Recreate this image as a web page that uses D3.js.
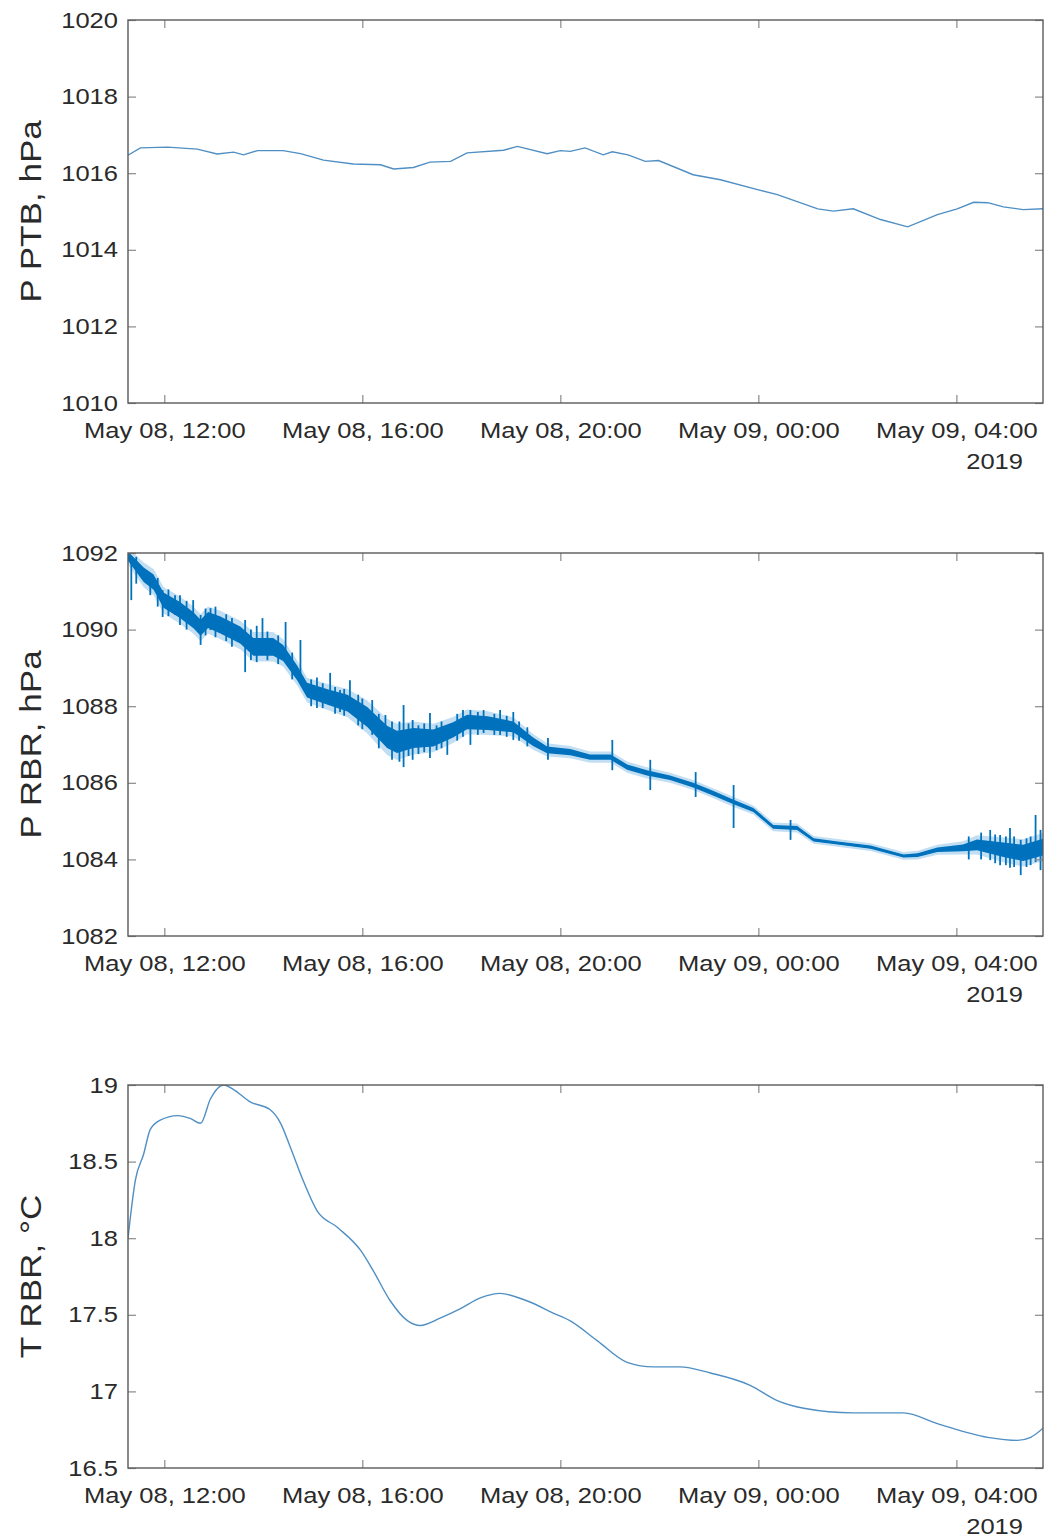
<!DOCTYPE html>
<html>
<head>
<meta charset="utf-8">
<script src="https://cdn.jsdelivr.net/npm/d3@7"></script>
<style>
  body { margin: 0; background: #fff; }
  text { font-family: "Liberation Sans", Arial, Helvetica, sans-serif; }
</style>
</head>
<body>
<div id="myVis"></div>
<script>
var w = 1045;
var h = 1539;
var left = 128;
var right = 1043;
var panelH = 383;
var tops = [20, 553, 1085];

// Panel 1: PTB pressure
var ptbTime = ["05-08 11:16","05-08 11:31","05-08 12:04","05-08 12:40","05-08 13:04","05-08 13:24","05-08 13:36","05-08 13:53","05-08 14:24","05-08 14:45",
  "05-08 15:13","05-08 15:49","05-08 16:22","05-08 16:38","05-08 17:02","05-08 17:22","05-08 17:47","05-08 18:07","05-08 18:51","05-08 19:08",
  "05-08 19:44","05-08 20:00","05-08 20:12","05-08 20:30","05-08 20:52","05-08 21:03","05-08 21:22","05-08 21:43","05-08 21:59","05-08 22:41",
  "05-08 23:14","05-08 23:59","05-09 00:23","05-09 01:12","05-09 01:31","05-09 01:55","05-09 02:28","05-09 03:01","05-09 03:37","05-09 04:01",
  "05-09 04:21","05-09 04:38","05-09 04:57","05-09 05:21","05-09 05:45"];
var ptbValue = [1016.47,1016.66,1016.68,1016.63,1016.50,1016.55,1016.48,1016.59,1016.59,1016.51,
  1016.34,1016.24,1016.22,1016.11,1016.15,1016.29,1016.31,1016.53,1016.60,1016.70,
  1016.51,1016.59,1016.57,1016.66,1016.48,1016.56,1016.48,1016.31,1016.33,1015.96,
  1015.83,1015.57,1015.44,1015.07,1015.01,1015.07,1014.79,1014.60,1014.92,1015.07,
  1015.24,1015.23,1015.12,1015.05,1015.07];

// Panel 2: RBR pressure (centre line and half-width of the noise band)
var rbrTime = ["05-08 11:16","05-08 11:35","05-08 11:47","05-08 11:59","05-08 12:19","05-08 12:35","05-08 12:44","05-08 12:53","05-08 13:08","05-08 13:32",
  "05-08 13:48","05-08 14:12","05-08 14:24","05-08 14:41","05-08 14:53","05-08 15:18","05-08 15:42","05-08 16:06","05-08 16:30","05-08 16:42",
  "05-08 17:02","05-08 17:26","05-08 17:50","05-08 18:07","05-08 18:32","05-08 19:03","05-08 19:27","05-08 19:44","05-08 20:12","05-08 20:36",
  "05-08 21:01","05-08 21:21","05-08 21:45","05-08 22:13","05-08 22:41","05-08 23:05","05-08 23:30","05-08 23:54","05-09 00:18","05-09 00:47",
  "05-09 01:07","05-09 01:36","05-09 02:16","05-09 02:56","05-09 03:13","05-09 03:37","05-09 04:08","05-09 04:25","05-09 04:57","05-09 05:21",
  "05-09 05:45"];
var rbrValue = [1091.92,1091.43,1091.24,1090.77,1090.51,1090.25,1090.05,1090.25,1090.12,1089.86,
  1089.55,1089.55,1089.39,1088.87,1088.42,1088.24,1088.08,1087.72,1087.20,1087.07,
  1087.17,1087.17,1087.38,1087.59,1087.56,1087.46,1087.07,1086.86,1086.80,1086.67,
  1086.67,1086.41,1086.26,1086.13,1085.94,1085.73,1085.50,1085.29,1084.85,1084.82,
  1084.51,1084.43,1084.32,1084.09,1084.11,1084.25,1084.30,1084.38,1084.25,1084.17,
  1084.32];
var rbrSpread = [0.12,0.19,0.20,0.20,0.21,0.21,0.21,0.21,0.22,0.22,
  0.23,0.23,0.21,0.19,0.19,0.20,0.22,0.26,0.29,0.29,
  0.26,0.22,0.20,0.19,0.18,0.14,0.11,0.09,0.08,0.07,
  0.07,0.07,0.07,0.06,0.06,0.06,0.06,0.05,0.05,0.05,
  0.04,0.04,0.04,0.04,0.05,0.06,0.09,0.14,0.19,0.21,
  0.22];
// Single spikes in the RBR record: time, low, high
var spikeTime = ["05-08 11:20","05-08 11:43","05-08 11:58","05-08 12:13","05-08 12:19","05-08 12:35","05-08 12:44","05-08 12:56","05-08 13:38","05-08 13:59",
  "05-08 14:27","05-08 14:45","05-08 15:21","05-08 15:33","05-08 15:45","05-08 16:12","05-08 16:28","05-08 16:50","05-08 17:01","05-08 17:22",
  "05-08 17:43","05-08 18:11","05-08 18:47","05-08 19:03","05-08 19:45","05-08 21:03","05-08 21:49","05-08 22:44","05-08 23:30","05-09 00:39",
  "05-09 04:41","05-09 04:53","05-09 05:05","05-09 05:18","05-09 05:36","05-09 05:42",
  "05-08 11:26","05-08 11:52","05-08 12:05","05-08 12:27","05-08 12:50","05-08 13:02","05-08 13:15","05-08 13:22","05-08 13:45","05-08 13:52",
  "05-08 14:05","05-08 14:18","05-08 14:35","05-08 14:58","05-08 15:05","05-08 15:12","05-08 15:27","05-08 15:38","05-08 15:55","05-08 16:00",
  "05-08 16:20","05-08 16:36","05-08 16:45","05-08 16:56","05-08 17:08","05-08 17:15","05-08 17:30","05-08 17:36","05-08 17:55","05-08 18:02",
  "05-08 18:20","05-08 18:27","05-08 18:40","05-08 18:55","05-08 19:10","05-08 19:20","05-09 04:15","05-09 04:30","05-09 04:47","05-09 05:00",
  "05-09 05:10","05-09 05:25","05-09 05:30"];
var spikeLow = [1090.77,1090.90,1090.33,1090.38,1090.12,1090.12,1089.60,1089.99,1088.89,1089.73,
  1089.21,1088.61,1088.16,1087.85,1087.90,1087.25,1086.99,1086.41,1086.60,1086.65,
  1086.73,1086.99,1087.25,1087.12,1086.60,1086.33,1085.81,1085.63,1084.82,1084.51,
  1083.98,1083.85,1083.78,1083.59,1083.93,1083.72,
  1091.20,1090.60,1090.35,1090.00,1089.85,1089.80,1089.70,1089.55,1089.20,1089.15,
  1089.20,1089.10,1088.70,1088.00,1087.95,1087.95,1087.80,1087.75,1087.50,1087.40,
  1086.90,1086.60,1086.55,1086.70,1086.75,1086.80,1086.85,1086.90,1087.10,1087.20,
  1087.25,1087.30,1087.25,1087.20,1087.10,1086.95,1084.00,1084.00,1083.90,1083.85,
  1083.80,1083.80,1083.85];
var spikeHigh = [1091.82,1091.43,1091.03,1090.90,1090.90,1090.77,1090.38,1090.56,1090.25,1090.30,
  1090.20,1089.73,1088.87,1088.42,1088.68,1088.16,1087.77,1088.03,1087.64,1087.82,
  1087.51,1087.90,1087.90,1087.85,1087.17,1087.12,1086.60,1086.28,1085.94,1085.03,
  1084.77,1084.64,1084.82,1084.51,1085.16,1084.77,
  1091.90,1091.35,1091.05,1090.75,1090.55,1090.60,1090.40,1090.30,1090.00,1090.10,
  1089.95,1089.85,1089.40,1088.70,1088.75,1088.60,1088.50,1088.45,1088.30,1088.20,
  1087.80,1087.60,1087.60,1087.55,1087.50,1087.55,1087.50,1087.60,1087.80,1087.90,
  1087.85,1087.90,1087.80,1087.75,1087.60,1087.45,1084.60,1084.70,1084.65,1084.60,
  1084.60,1084.55,1084.60];

// Panel 3: RBR temperature
var tTime = ["05-08 11:16","05-08 11:25","05-08 11:35","05-08 11:43","05-08 11:55","05-08 12:16","05-08 12:32","05-08 12:44","05-08 12:56","05-08 13:12",
  "05-08 13:24","05-08 13:44","05-08 14:08","05-08 14:21","05-08 14:33","05-08 14:48","05-08 15:05","05-08 15:30","05-08 15:58","05-08 16:13",
  "05-08 16:34","05-08 16:55","05-08 17:10","05-08 17:35","05-08 17:59","05-08 18:23","05-08 18:47","05-08 19:20","05-08 19:52","05-08 20:12",
  "05-08 20:45","05-08 21:21","05-08 21:53","05-08 22:25","05-08 23:02","05-08 23:50","05-09 00:23","05-09 00:55","05-09 01:55","05-09 02:56",
  "05-09 03:37","05-09 04:38","05-09 05:14","05-09 05:30","05-09 05:45"];
var tValue = [18.00,18.38,18.55,18.71,18.77,18.80,18.78,18.75,18.91,19.00,
  18.97,18.89,18.84,18.75,18.59,18.38,18.18,18.07,17.92,17.79,
  17.59,17.46,17.43,17.48,17.54,17.61,17.64,17.59,17.51,17.46,
  17.33,17.19,17.16,17.16,17.12,17.04,16.94,16.89,16.86,16.86,
  16.79,16.70,16.68,16.70,16.76];

// Axes
var xStart = "05-08 11:16";
var xEnd = "05-09 05:45";
var xTicks = ["05-08 12:00","05-08 16:00","05-08 20:00","05-09 00:00","05-09 04:00"];
var yLabels = ["P PTB, hPa", "P RBR, hPa", "T RBR, °C"];
var yDomains = [[1010, 1020], [1082, 1092], [16.5, 19]];
var yTicks = [[1010, 1012, 1014, 1016, 1018, 1020],
              [1082, 1084, 1086, 1088, 1090, 1092],
              [16.5, 17, 17.5, 18, 18.5, 19]];
var yearLabel = "2019";

var parse = d3.timeParse("%Y-%m-%d %H:%M");
function toDate(s) { return parse("2019-" + s); }

var svg = d3.select("#myVis").append("svg")
  .attr("width", w)
  .attr("height", h)
  .style("background-color", "white");

var x = d3.scaleTime()
  .domain([toDate(xStart), toDate(xEnd)])
  .range([left, right]);

var blue = "#0072BD";

function stretch(sel, k) {
  sel.each(function() {
    var l = this.getComputedTextLength();
    d3.select(this).attr("textLength", l * k).attr("lengthAdjust", "spacingAndGlyphs");
  });
}

function drawPanel(i) {
  var top = tops[i];
  var bottom = top + panelH;
  var y = d3.scaleLinear().domain(yDomains[i]).range([bottom, top]);
  var g = svg.append("g");

  g.append("defs").append("clipPath").attr("id", "clip" + i)
    .append("rect").attr("x", left).attr("y", top)
    .attr("width", right - left).attr("height", panelH);
  var plot = g.append("g").attr("clip-path", "url(#clip" + i + ")");

  if (i === 0) {
    var pts = ptbTime.map(function(t, k) { return [toDate(t), ptbValue[k]]; });
    plot.append("path").datum(pts)
      .attr("fill", "none").attr("stroke", "#4f8fc4").attr("stroke-width", 1.4)
      .attr("d", d3.line().x(function(d) { return x(d[0]); }).y(function(d) { return y(d[1]); }));
  } else if (i === 1) {
    var pts2 = rbrTime.map(function(t, k) { return [toDate(t), rbrValue[k], rbrSpread[k]]; });
    plot.append("path").datum(pts2)
      .attr("fill", "#8fc3ea").attr("opacity", 0.55)
      .attr("d", d3.area().x(function(d) { return x(d[0]); })
        .y0(function(d) { return y(d[1] - d[2] * 1.5 - 0.04); })
        .y1(function(d) { return y(d[1] + d[2] * 1.5 + 0.04); }));
    plot.append("path").datum(pts2)
      .attr("fill", blue)
      .attr("d", d3.area().x(function(d) { return x(d[0]); })
        .y0(function(d) { return y(d[1] - d[2]); })
        .y1(function(d) { return y(d[1] + d[2]); }));
    plot.selectAll("line.spike")
      .data(spikeTime)
      .enter()
      .append("line")
      .attr("class", "spike")
      .attr("x1", function(d) { return x(toDate(d)); })
      .attr("x2", function(d) { return x(toDate(d)); })
      .attr("y1", function(d, k) { return y(spikeLow[k]); })
      .attr("y2", function(d, k) { return y(spikeHigh[k]); })
      .attr("stroke", blue).attr("stroke-width", 1.8);
    plot.append("path").datum(pts2)
      .attr("fill", "none").attr("stroke", blue).attr("stroke-width", 2)
      .attr("d", d3.line().x(function(d) { return x(d[0]); }).y(function(d) { return y(d[1]); }));
  } else {
    var pts3 = tTime.map(function(t, k) { return [toDate(t), tValue[k]]; });
    plot.append("path").datum(pts3)
      .attr("fill", "none").attr("stroke", "#4f8fc4").attr("stroke-width", 1.4)
      .attr("d", d3.line().curve(d3.curveMonotoneX)
        .x(function(d) { return x(d[0]); }).y(function(d) { return y(d[1]); }));
  }

  var tickLen = 8;
  var xb = g.append("g").attr("transform", "translate(0," + bottom + ")")
    .call(d3.axisBottom(x).tickValues(xTicks.map(toDate))
      .tickFormat(d3.timeFormat("%b %d, %H:%M"))
      .tickSize(-tickLen).tickSizeOuter(0).tickPadding(19));
  var xt = g.append("g").attr("transform", "translate(0," + top + ")")
    .call(d3.axisTop(x).tickValues(xTicks.map(toDate)).tickFormat("")
      .tickSize(-tickLen).tickSizeOuter(0));
  var yl = g.append("g").attr("transform", "translate(" + left + ",0)")
    .call(d3.axisLeft(y).tickValues(yTicks[i]).tickFormat(d3.format("~g"))
      .tickSize(-tickLen).tickSizeOuter(0).tickPadding(10));
  var yr = g.append("g").attr("transform", "translate(" + right + ",0)")
    .call(d3.axisRight(y).tickValues(yTicks[i]).tickFormat("")
      .tickSize(-tickLen).tickSizeOuter(0));

  [xb, xt, yl, yr].forEach(function(a) {
    a.select(".domain").remove();
    a.selectAll(".tick line").attr("stroke", "#8a8a8a").attr("stroke-width", 1.2);
    a.selectAll(".tick text").attr("fill", "#2a2a2a").style("font-size", "22px");
  });
  stretch(xb.selectAll(".tick text"), 1.16);
  stretch(yl.selectAll(".tick text"), 1.16);

  g.append("rect")
    .attr("x", left).attr("y", top)
    .attr("width", right - left).attr("height", panelH)
    .attr("fill", "none").attr("stroke", "#5a5a5a").attr("stroke-width", 1.4);

  var yr2 = g.append("text")
    .attr("x", 1023).attr("y", bottom + 66)
    .attr("text-anchor", "end")
    .attr("fill", "#2a2a2a")
    .style("font-size", "22px")
    .text(yearLabel);
  stretch(yr2, 1.16);

  var lab = g.append("text")
    .attr("transform", "translate(41," + (top + panelH / 2) + ") rotate(-90)")
    .attr("text-anchor", "middle")
    .attr("fill", "#2a2a2a")
    .style("font-size", "30px")
    .text(yLabels[i]);
  stretch(lab, 1.17);
}

for (var i = 0; i < 3; i++) drawPanel(i);
</script>
</body>
</html>
